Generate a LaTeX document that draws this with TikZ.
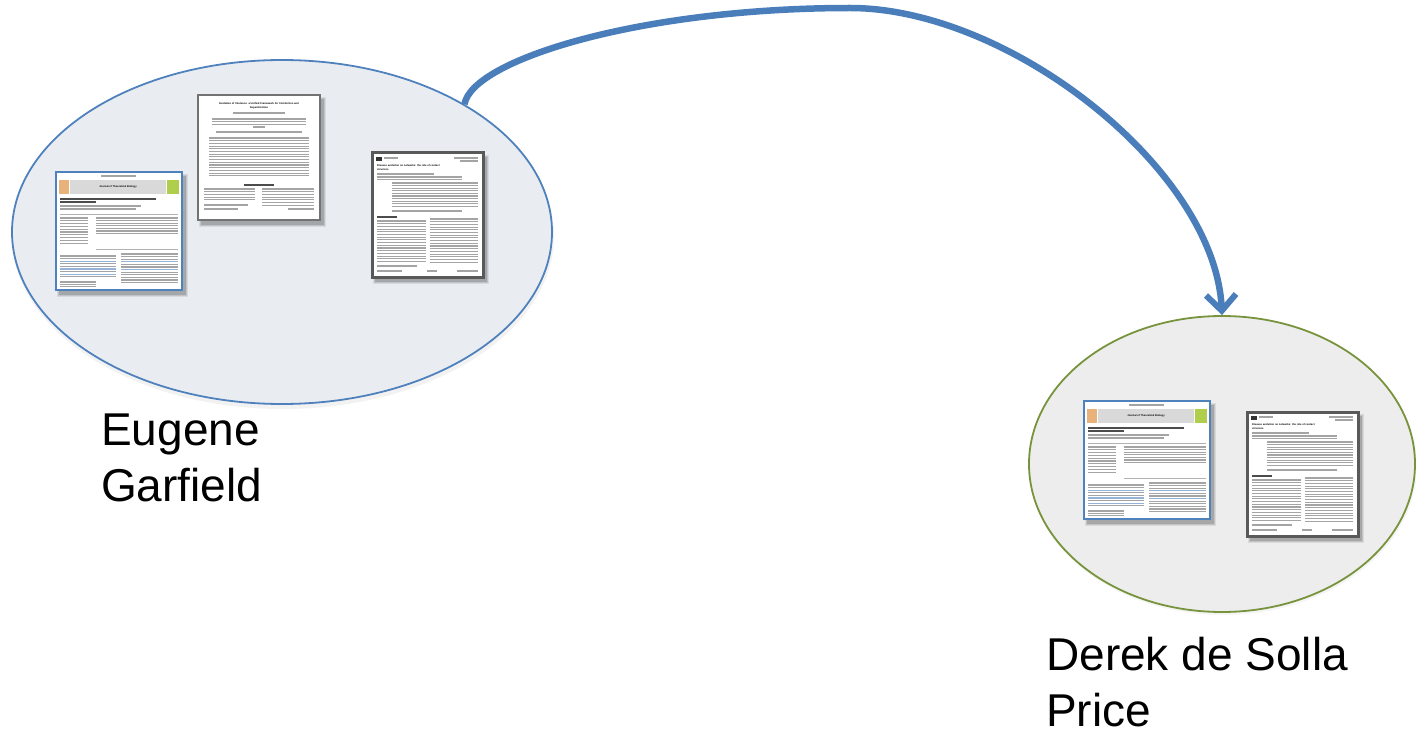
\documentclass[tikz,border=0pt]{standalone}
\usepackage{fontspec}
\setmainfont{Liberation Sans}
\usetikzlibrary{shapes.geometric,arrows.meta}

\definecolor{linkblue}{HTML}{4A7EBB}
\definecolor{leftfill}{HTML}{E9EDF1}
\definecolor{rightfill}{HTML}{EDEDED}
\definecolor{olive}{HTML}{77933C}
\definecolor{jtbblue}{HTML}{4F81BD}
\definecolor{inkgray}{HTML}{A4A4A4}

% a run of ruled "text" lines: x0, y0, x1, count, spacing
\newcommand\txtrows[5]{%
  \foreach \k in {1,...,#4}{\draw[txt] (#1,{#2+(\k-1)*#5}) -- (#3,{#2+(\k-1)*#5});}}
% soft shadow behind a page of width #1 and height #2
\newcommand\pageshadow[2]{%
  \fill[black,opacity=0.08] (1,2) rectangle (#1+6,#2+7);
  \fill[black,opacity=0.10] (2,3) rectangle (#1+5,#2+6);
  \fill[black,opacity=0.14] (3,4) rectangle (#1+4,#2+5);}

\tikzset{
  txt/.style={draw=inkgray,line width=1.1pt},
  txtdark/.style={draw=black!70,line width=1.3pt},
  txtlink/.style={draw=jtbblue!60,line width=1.1pt},
  tiny/.style={inner sep=0pt,font=\fontsize{2.6}{3}\selectfont\bfseries},
  cluster/.style={ellipse,inner sep=0pt,line width=1.8pt},
  who/.style={align=left,anchor=north west,inner sep=0pt,
    font=\fontsize{46}{56}\selectfont},
  citearrow/.style={draw=linkblue,line width=6.5pt,
    -{Straight Barb[length=16pt,width=30pt,line width=6pt]}},
  % Journal of Theoretical Biology article, 126 x 118
  pics/jtbpage/.style={code={
    \pageshadow{126}{118}
    \fill[white] (0,0) rectangle (126,118);
    \draw[txt] (45,4) -- (80,4);
    \fill[gray!30] (14,8) rectangle (110,22);
    \fill[orange!45!brown!60] (3,8) rectangle (13,22);
    \fill[green!45!orange!70] (111,8) rectangle (123,22);
    \node[tiny] at (62,15) {Journal of Theoretical Biology};
    \draw[txtdark] (4,27) -- (100,27);
    \draw[txtdark] (4,30) -- (40,30);
    \draw[txt] (4,34) -- (85,34);
    \draw[txt] (4,37) -- (80,37);
    \draw[draw=gray!60,line width=0.6pt] (4,42) -- (122,42);
    \txtrows{4}{46}{32}{10}{2.8}
    \txtrows{40}{46}{122}{7}{2.6}
    \draw[draw=gray!60,line width=0.6pt] (40,77) -- (122,77);
    \txtrows{4}{84}{60}{9}{2.6}
    \foreach \k in {2,5,7}{\draw[txtlink] (4,84+\k*2.6) -- (60,84+\k*2.6);}
    \txtrows{65}{82}{122}{12}{2.6}
    \foreach \k in {3,6}{\draw[txtlink] (65,82+\k*2.6) -- (122,82+\k*2.6);}
    \txtrows{4}{110}{40}{3}{2.4}
    \draw[draw=jtbblue,line width=2.6pt] (0,0) rectangle (126,118);
  }},
  % Evolution of Virulence article, 122 x 125
  pics/virpage/.style={code={
    \pageshadow{122}{125}
    \fill[white] (0,0) rectangle (122,125);
    \node[tiny] at (61,9) {Evolution of Virulence: a Unified Framework for Coinfection and};
    \node[tiny] at (61,13) {Superinfection};
    \draw[txt] (35,18) -- (87,18);
    \txtrows{14}{24}{108}{3}{2.6}
    \draw[txt] (55,32) -- (67,32);
    \draw[txt] (18,37) -- (104,37);
    \txtrows{11}{43}{111}{15}{2.7}
    \draw[txtdark] (46,90) -- (76,90);
    \txtrows{6}{94}{57}{5}{2.7}
    \txtrows{64}{94}{116}{7}{2.7}
    \draw[txt] (6,110) -- (50,110);
    \draw[txt] (6,114) -- (40,114);
    \draw[txt] (90,114) -- (116,114);
    \draw[draw=black!55,line width=2.6pt] (0,0) rectangle (122,125);
  }},
  % Disease evolution on networks article, 111 x 124
  pics/netpage/.style={code={
    \pageshadow{111}{124}
    \fill[white] (0,0) rectangle (111,124);
    \fill[black!80] (4,4) rectangle (10,8);
    \draw[txt] (12,5) -- (26,5);
    \draw[txt] (82,5) -- (106,5);
    \draw[txt] (88,8) -- (106,8);
    \node[tiny,anchor=west] at (5,13) {Disease evolution on networks: the role of contact};
    \node[tiny,anchor=west] at (5,17) {structure};
    \draw[txt] (5,21) -- (62,21);
    \txtrows{5}{24}{90}{2}{2.4}
    \txtrows{20}{30}{106}{10}{2.6}
    \draw[txt] (20,58) -- (90,58);
    \draw[txtdark] (5,64) -- (25,64);
    \txtrows{5}{68}{54}{16}{2.7}
    \txtrows{58}{66}{106}{17}{2.7}
    \draw[txt] (5,113) -- (45,113);
    \draw[txt] (5,118) -- (30,118);
    \draw[txt] (55,118) -- (65,118);
    \draw[txt] (85,118) -- (106,118);
    \draw[draw=black!65,line width=3pt] (0,0) rectangle (111,124);
  }}
}

\begin{document}
\begin{tikzpicture}[x=1pt,y=-1pt]
\useasboundingbox (0,0) rectangle (1416,738);

% the two clusters of papers, each with a faint shadow
\fill[black,opacity=0.05] (283,236) ellipse [x radius=271,y radius=173];
\fill[black,opacity=0.04] (1223,466) ellipse [x radius=194,y radius=149];
\node[cluster,draw=jtbblue,fill=leftfill,minimum width=540pt,minimum height=344pt]
  (garfield) at (282,232) {};
\node[cluster,draw=olive,fill=rightfill,minimum width=386pt,minimum height=296pt]
  (price) at (1222,464) {};

% papers held by each cluster
\pic at (56,172) {jtbpage};
\pic at (198,95) {virpage};
\pic at (372,153) {netpage};
\pic at (1084,401) {jtbpage};
\pic at (1247,412) {netpage};

% names under the clusters
\node[who] (gname) at (101,414) {Eugene\\Garfield};
\node[who] (pname) at (1046,637) {Derek de Solla\\Price};

% the citation link
\coordinate (apex) at (850,8);
\draw[citearrow] (garfield.35) .. controls (472,60) and (640,8) .. (apex)
  .. controls (1010,8) and (1215,170) .. (price.north);
\end{tikzpicture}
\end{document}
